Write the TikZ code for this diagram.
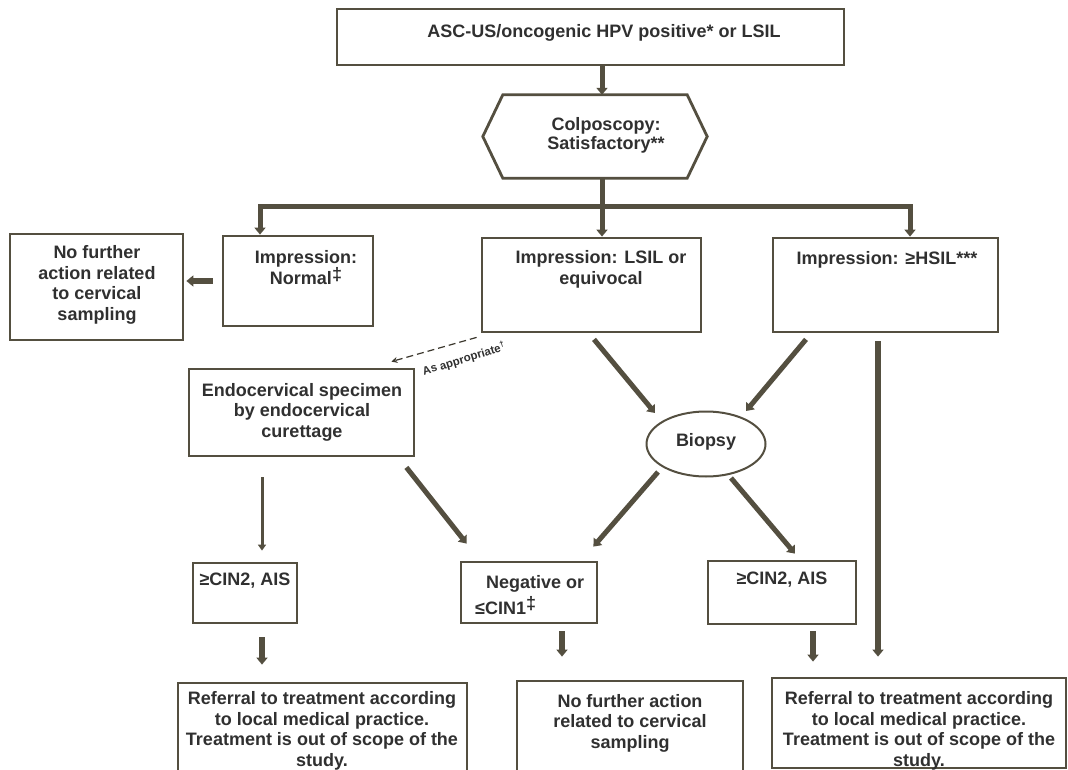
\documentclass[tikz,border=0pt]{standalone}
\usepackage{fontspec}
\setmainfont{Liberation Sans}
\usetikzlibrary{arrows.meta,calc,shapes.geometric}
\definecolor{ln}{RGB}{84,79,64}
\definecolor{tx}{RGB}{48,48,48}
\tikzset{
  box/.style={draw=ln,line width=2.8pt,inner sep=0pt,rectangle},
  frame/.style={draw=ln,line width=2.8pt,line join=miter},
  lbl/.style={font=\bfseries\fontsize{18}{20.5}\selectfont,text=tx,align=center,inner sep=0pt},
  small/.style={font=\bfseries\fontsize{11.5}{13}\selectfont,text=tx,inner sep=0pt},
  conn/.style={draw=ln,line width=5pt},
  arr/.style={conn,-{Triangle[width=11pt,length=7pt]}},
  thinarr/.style={draw=ln,line width=3pt,-{Triangle[width=8pt,length=6pt]}},
  dasharr/.style={draw=ln!70!black,line width=1.2pt,dash pattern=on 7pt off 4pt,-{Stealth[width=6pt,length=6pt]}},
}
\begin{document}
\begin{tikzpicture}[x=1pt,y=-1pt]
\useasboundingbox (0,0) rectangle (1068,770);
\fill[white] (0,0) rectangle (1068,770);

% boxes
\node[box,minimum width=507,minimum height=56] (top) at (590.5,37) {};
\node[lbl] (topt) at (604,33) {ASC-US/oncogenic HPV positive* or LSIL};

\node[minimum width=224,minimum height=83,inner sep=0pt] (hex) at (595,136.5) {};
\draw[frame] (hex.west) -- ($(hex.north west)+(20,0)$) -- ($(hex.north east)+(-20,0)$) -- (hex.east)
  -- ($(hex.south east)+(-20,0)$) -- ($(hex.south west)+(20,0)$) -- cycle;
\node[lbl,font=\bfseries\fontsize{18}{19}\selectfont] (hext) at (606,135) {Colposcopy:\\Satisfactory**};

\node[box,minimum width=150,minimum height=90] (norm) at (298,281) {};
\node[lbl] (normt) at (306,267.5) {Impression:\\Normal\raisebox{4pt}{‡}};

\node[box,minimum width=173,minimum height=106] (left) at (96.5,287) {};
\node[lbl] (leftt) at (97,285) {No further\\action related\\to cervical\\sampling};

\node[box,minimum width=219,minimum height=94] (lsil) at (591.5,285) {};
\node[lbl] (lsilt) at (601,269.5) {Impression: LSIL or\\equivocal};

\node[box,minimum width=225,minimum height=94] (hsil) at (885.5,285) {};
\node[lbl] (hsilt) at (887,260) {Impression: ≥HSIL***};

\node[box,minimum width=225,minimum height=87] (endo) at (301.5,412.5) {};
\node[lbl] (endot) at (302,412) {Endocervical specimen\\by endocervical\\curettage};

\node[draw=ln,line width=2pt,ellipse,minimum width=119,minimum height=65,inner sep=0pt] (bio) at (706,444) {};
\node[lbl] (biot) at (706,442) {Biopsy};

\node[box,minimum width=104,minimum height=60] (cin2l) at (245,593) {};
\node[lbl] (cin2lt) at (245,581) {≥CIN2, AIS};

\node[box,minimum width=136,minimum height=61] (neg) at (529,592.5) {};
\node[lbl,align=left,anchor=west] (negt) at (475,595) {\hspace*{11pt}Negative or\\[3pt]≤CIN1\raisebox{5pt}{‡}};

\node[box,minimum width=148,minimum height=63] (cin2r) at (782,592.5) {};
\node[lbl] (cin2rt) at (782,580) {≥CIN2, AIS};

\node[box,minimum width=289,minimum height=89] (botl) at (322.5,727.5) {};
\node[lbl] (botlt) at (322,731) {Referral to treatment according\\to local medical practice.\\Treatment is out of scope of the\\study.};

\node[box,minimum width=226,minimum height=91] (botm) at (630,726.5) {};
\node[lbl] (botmt) at (630,723) {No further action\\related to cervical\\sampling};

\node[box,minimum width=294,minimum height=90] (botr) at (919,723) {};
\node[lbl] (botrt) at (919,731) {Referral to treatment according\\to local medical practice.\\Treatment is out of scope of the\\study.};

% connectors
\coordinate (bc) at (602,207);
\coordinate (bl) at (260,207);
\coordinate (br) at (910,207);
\draw[arr] (top.south -| bc) -- (hex.north -| bc);
\draw[conn] (hex.south -| bc) -- (bc);
\draw[conn,line cap=rect] (bl) -- (br);
\draw[arr] (bl) -- (bl |- norm.north);
\draw[arr] (bc) -- (bc |- lsil.north);
\draw[arr] (br) -- (br |- hsil.north);

\draw[arr,line width=6pt] ($(norm.west)+(-9,0)$) -- ($(left.east)+(2,-6)$);

\draw[dasharr] ($(lsil.south west)+(-4,4)$) -- ($(endo.north east)+(-24,-6)$);
\node[small,rotate=17] (asapp) at (464,359) {As appropriate\textsuperscript{†}};

\draw[arr] ($(lsil.south)+(2.5,6)$) -- ($(bio.center)+(-51,-31)$);
\draw[arr] ($(hsil.south)+(-79.5,6)$) -- ($(bio.center)+(40,-33)$);
\draw[arr,line width=6pt] ($(hsil.south)+(-7.5,8)$) -- ($(botr.north)+(-41,-20)$);

\draw[thinarr] ($(endo.south)+(-39.5,20)$) -- ($(cin2l.north)+(17,-11)$);
\draw[arr] ($(endo.south east)+(-9,10)$) -- ($(neg.north west)+(7,-17)$);
\draw[arr] ($(bio.center)+(-48,28)$) -- ($(neg.north east)+(-5,-14)$);
\draw[arr] ($(bio.center)+(25,34)$) -- ($(cin2r.north)+(13,-6)$);

\draw[arr,line width=6pt] ($(cin2l.south)+(17,13)$) -- ($(botl.north)+(-60.5,-17)$);
\draw[arr,line width=6pt] ($(neg.south)+(33,7)$) -- ($(botm.north)+(-68,-23)$);
\draw[arr,line width=6pt] ($(cin2r.south)+(31,6)$) -- ($(botr.north)+(-106,-15)$);
\end{tikzpicture}
\end{document}
